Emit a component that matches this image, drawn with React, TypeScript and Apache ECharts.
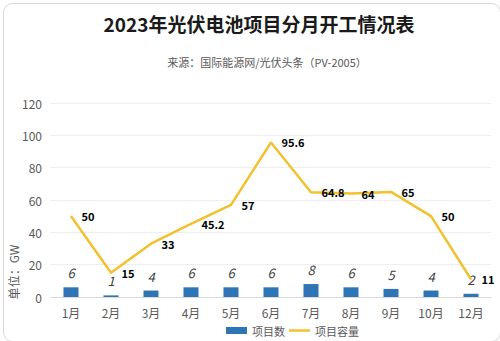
import React, { useEffect, useRef } from "react";
import * as echarts from "echarts";

const categories = ["1月", "2月", "3月", "4月", "5月", "6月", "7月", "8月", "9月", "10月", "12月"];
const projectCounts = [6, 1, 4, 6, 6, 6, 8, 6, 5, 4, 2];
const projectCapacity = [50, 15, 33, 45.2, 57, 95.6, 64.8, 64, 65, 50, 11];
const yTicks = [0, 20, 40, 60, 80, 100, 120];

const TITLE = "2023年光伏电池项目分月开工情况表";
const SUBTITLE = "来源：国际能源网/光伏头条（PV-2005）";
const FONT = '"Microsoft YaHei", "Noto Sans CJK SC", "Noto Sans", sans-serif';

export default function App() {
  const ref = useRef<HTMLDivElement>(null);
  useEffect(() => {
    if (!ref.current) return;
    const chart = echarts.init(ref.current, undefined, { renderer: "svg" });
    chart.setOption({
      animation: false,
      backgroundColor: "#ffffff",
      textStyle: { fontFamily: FONT },
      graphic: [
        {
          type: "rect",
          left: 1,
          top: 1,
          shape: { width: 497, height: 338, r: 9 },
          style: { fill: "none", stroke: "#d9d9d9", lineWidth: 1 },
          silent: true,
        },
        {
          type: "text",
          x: 259,
          y: 23,
          style: {
            text: TITLE,
            font: `bold 19px ${FONT}`,
            fill: "#1a1a1a",
            textAlign: "center",
            textVerticalAlign: "middle",
          },
        },
        {
          type: "text",
          x: 267,
          y: 62,
          style: {
            text: SUBTITLE,
            font: `11px ${FONT}`,
            fill: "#595959",
            textAlign: "center",
            textVerticalAlign: "middle",
          },
        },
        {
          type: "text",
          x: 13,
          y: 272,
          rotation: Math.PI / 2,
          style: {
            text: "单位：GW",
            font: `12px ${FONT}`,
            fill: "#595959",
            textAlign: "center",
            textVerticalAlign: "middle",
          },
        },
      ],
      grid: { left: 51, right: 9, top: 103, bottom: 44, containLabel: false },
      legend: {
        top: 324,
        left: 226,
        padding: 0,
        itemWidth: 21,
        itemHeight: 7,
        itemGap: 4,
        textStyle: { fontSize: 11, color: "#595959", lineHeight: 13 },
        data: [
          { name: "项目数", icon: "rect" },
          { name: "项目容量", icon: "path://M0 0H21V2.5H0Z" },
        ],
      },
      xAxis: {
        type: "category",
        data: categories,
        boundaryGap: true,
        axisLine: { lineStyle: { color: "#d9d9d9" } },
        axisTick: { show: false },
        axisLabel: { color: "#595959", fontSize: 12, margin: 9 },
      },
      yAxis: {
        type: "value",
        min: yTicks[0],
        max: yTicks[yTicks.length - 1],
        interval: 20,
        axisLine: { show: false },
        axisTick: { show: false },
        axisLabel: { color: "#595959", fontSize: 12, margin: 9 },
        splitLine: { lineStyle: { color: "#eeeeee" } },
      },
      series: [
        {
          name: "项目数",
          type: "bar",
          data: projectCounts,
          barWidth: 15,
          itemStyle: { color: "#2E75B6" },
          label: {
            show: true,
            position: "top",
            distance: 8,
            color: "#404040",
            fontSize: 13,
            fontStyle: "italic",
          },
        },
        {
          name: "项目容量",
          type: "line",
          data: projectCapacity,
          symbol: "circle",
          symbolSize: 1,
          showSymbol: true,
          lineStyle: { color: "#F2C12E", width: 2.5 },
          itemStyle: { color: "#F2C12E" },
          label: {
            show: true,
            position: "right",
            distance: 10,
            color: "#000000",
            fontSize: 11,
            fontWeight: "bold",
          },
        },
      ],
    });
    return () => chart.dispose();
  }, []);
  return (
    <div
      ref={ref}
      style={{ position: "fixed", left: 0, top: 0, width: 500, height: 341 }}
    />
  );
}
